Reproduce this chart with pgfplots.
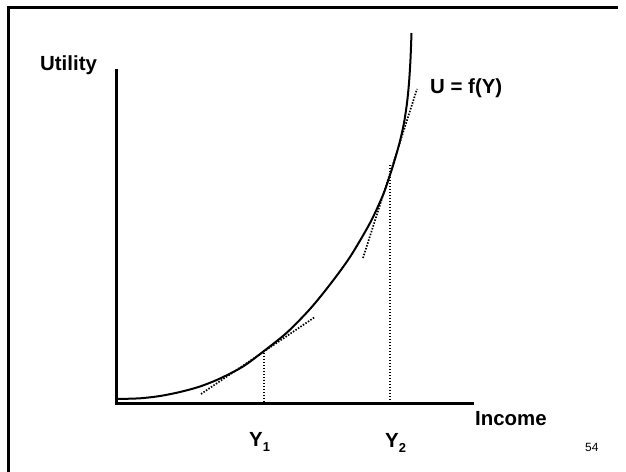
\documentclass[border=0pt]{standalone}
\usepackage{fontspec}
\setmainfont{Liberation Sans}
\usepackage{pgfplots}
\pgfplotsset{compat=1.18}
\begin{document}
\begin{tikzpicture}
\path[use as bounding box] (0,0) rectangle (626bp,472bp);
\begin{axis}[scale only axis, width=626bp, height=472bp,
  xmin=0, xmax=626, ymin=0, ymax=472, hide axis, clip=false,
  anchor=south west, at={(0,0)}]
% slide frame
\addplot[black, line width=2.2bp, line join=miter, line cap=butt] coordinates {(8.5,0) (8.5,464.5) (618,464.5)};
% axes
\addplot[black, line width=3bp, line join=miter] coordinates {(116.5,403) (116.5,68) (474,68)};
% utility curve
\addplot[black, line width=2bp, smooth, tension=0.5] coordinates {
(117,73) (140,73.7) (160,76) (180,80) (200,85.5) (220,93.5) (243,105.5) (264,121)
(287,139.5) (310,163) (330,187.5) (350,215) (370,249) (383,277) (390,297)
(395,313) (400,331) (404,349) (407,369) (409,389) (410.5,413) (411.5,439)};
% tangents
\addplot[black, line width=1.7bp, dash pattern=on 1.5bp off 1.5bp] coordinates {(201,78) (315,155)};
\addplot[black, line width=1.7bp, dash pattern=on 1.5bp off 1.5bp] coordinates {(363,214) (417,383)};
% vertical drop lines
\addplot[black, line width=1.7bp, dash pattern=on 1.5bp off 1.5bp] coordinates {(264,122) (264,69)};
\addplot[black, line width=1.7bp, dash pattern=on 1.5bp off 1.5bp] coordinates {(390,307) (390,69)};
% labels
\node[anchor=base west, inner sep=0pt, font=\fontsize{20.5}{24}\selectfont\bfseries] at (axis cs:40,401.3) {Utility};
\node[anchor=base west, inner sep=0pt, font=\fontsize{20.5}{24}\selectfont\bfseries] at (axis cs:430,378) {U = f(Y)};
\node[anchor=base west, inner sep=0pt, font=\fontsize{20.5}{24}\selectfont\bfseries] at (axis cs:475,46) {Income};
\node[anchor=base west, inner sep=0pt, font=\fontsize{20.5}{24}\selectfont\bfseries] at (axis cs:249,26) {Y\raisebox{-0.28em}{\fontsize{13}{14}\selectfont 1}};
\node[anchor=base west, inner sep=0pt, font=\fontsize{20.5}{24}\selectfont\bfseries] at (axis cs:385,25) {Y\raisebox{-0.28em}{\fontsize{13}{14}\selectfont 2}};
\node[anchor=base west, inner sep=0pt, font=\fontsize{12}{14}\selectfont] at (axis cs:585,21) {54};
\end{axis}
\end{tikzpicture}
\end{document}
